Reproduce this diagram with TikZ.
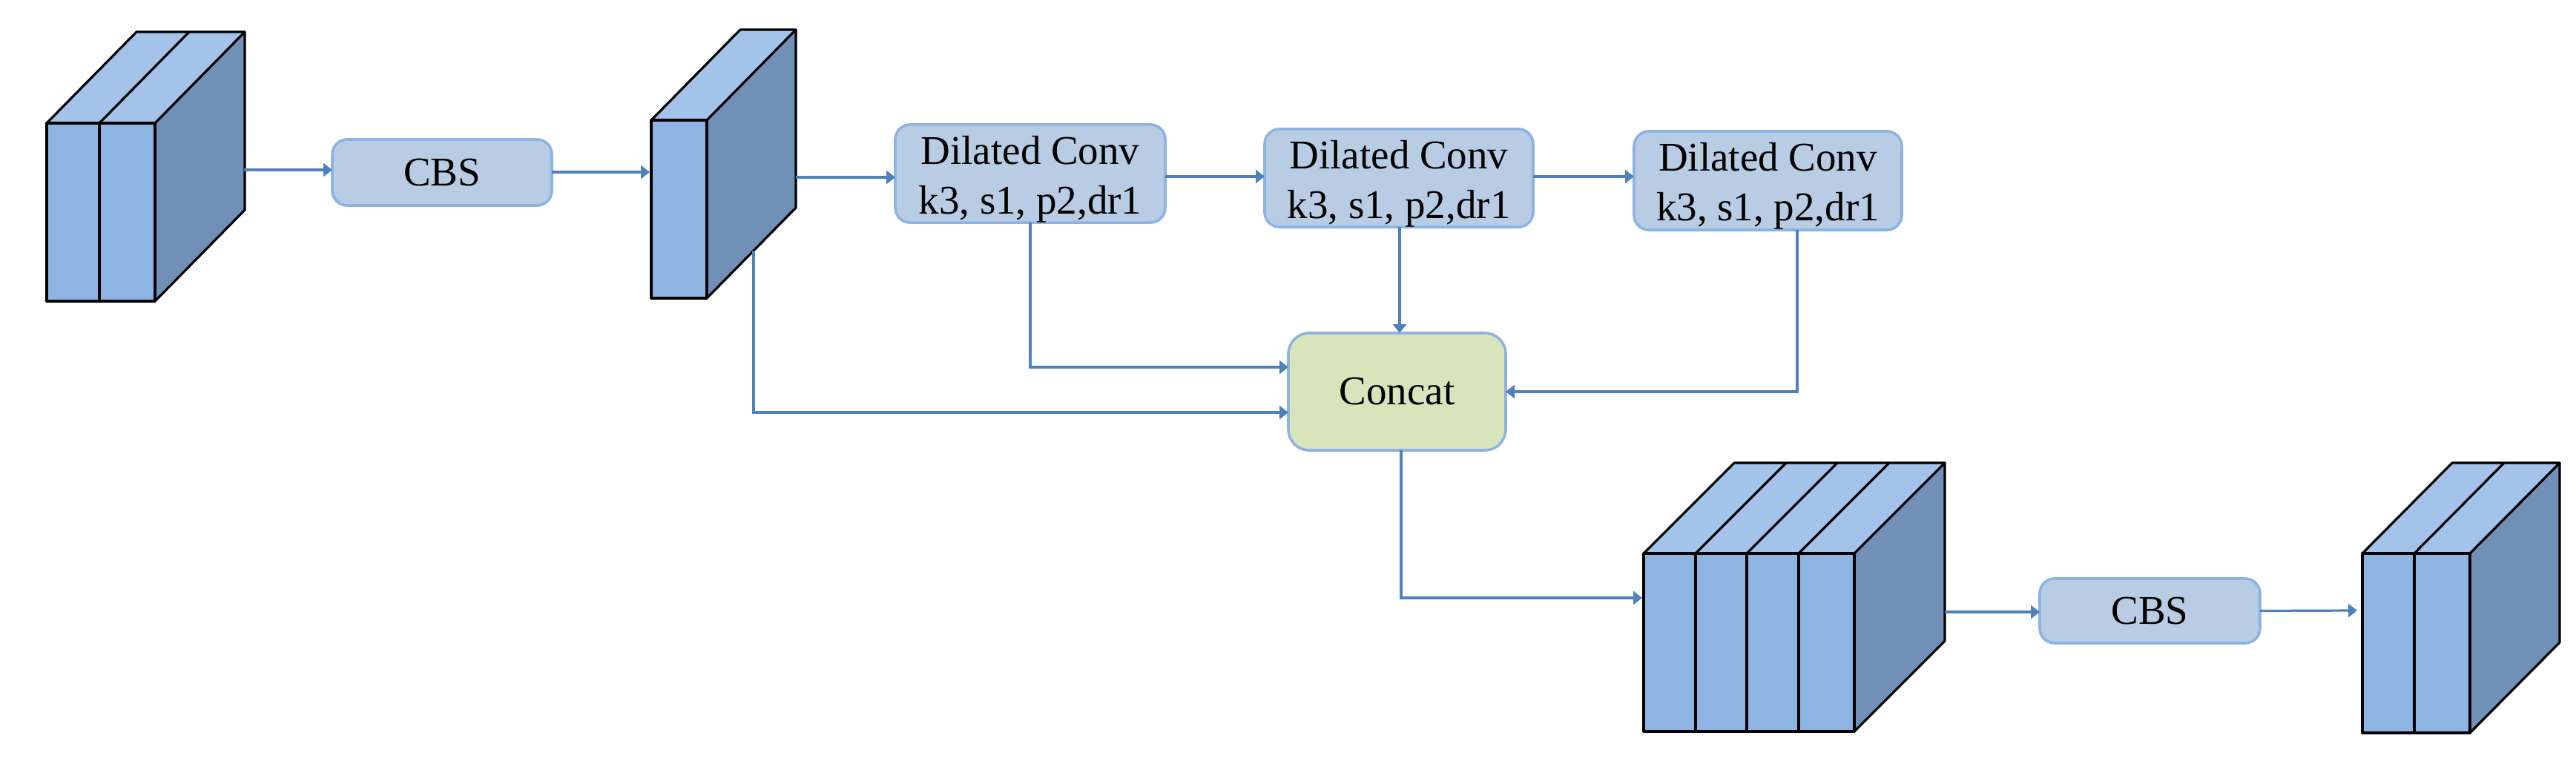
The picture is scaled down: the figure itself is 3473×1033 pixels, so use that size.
\documentclass[tikz,border=0pt]{standalone}
\usepackage{fontspec}
\setmainfont{Liberation Serif}
\usetikzlibrary{arrows.meta}
\definecolor{frontc}{HTML}{8EB4E3}
\definecolor{topc}{HTML}{A3C3EA}
\definecolor{sidec}{HTML}{7090B8}
\definecolor{boxc}{HTML}{B8CCE4}
\definecolor{boxb}{HTML}{8DB3E2}
\definecolor{concatc}{HTML}{D7E4BC}
\definecolor{linkc}{HTML}{4F81BD}
\tikzset{
  x=0.5pt,y=-0.5pt,
  face/.style={draw=black,line width=1.6pt,line join=round},
  bluebox/.style={draw=boxb,fill=boxc,line width=1.8pt,rounded corners=10pt,inner sep=0pt,outer sep=0pt,align=center,
    font=\fontsize{27.5}{33.5}\selectfont},
  greenbox/.style={bluebox,fill=concatc,rounded corners=14pt},
  link/.style={draw=linkc,line width=1.6pt,-{Triangle[length=6pt,width=9pt]}},
}
\newcommand{\dctext}{\rule{0pt}{26.7pt}Dilated Conv\\k3, s1, p2,dr1}
% name, dividers, xL, xR, yT, yB, dx, dy
\newcommand{\stackblock}[8]{%
  \fill[sidec] (#4,#5) -- ++(#7,-#8) -- ++(0,#6-#5) -- (#4,#6) -- cycle;
  \fill[topc] (#3,#5) -- ++(#7,-#8) -- ++(#4-#3,0) -- (#4,#5) -- cycle;
  \fill[frontc] (#3,#5) rectangle (#4,#6);
  \foreach \xd in {#2} {
    \draw[face] (\xd,#5) -- (\xd,#6);
    \draw[face] (\xd,#5) -- ++(#7,-#8);
  }
  \draw[face] (#3,#5) rectangle (#4,#6);
  \draw[face] (#3,#5) -- ++(#7,-#8) -- ++(#4-#3,0) -- (#4,#5);
  \draw[face] (#4,#6) -- ++(#7,-#8) -- ++(0,#5-#6);
  \node[inner sep=0pt,outer sep=0pt] (#1) at (#3,#5) {};
}
\begin{document}
\begin{tikzpicture}
\useasboundingbox (0,0) rectangle (3473,1033);
\stackblock{blockA}{134}{63}{209}{166}{406}{121}{123}
\stackblock{blockB}{}{878}{953}{162}{402}{120}{122}
\stackblock{blockC}{2286,2355,2425}{2216}{2500}{746}{986}{122}{122}
\stackblock{blockD}{3255}{3185}{3330}{746}{988}{121}{122}

\node[bluebox,minimum width=148pt,minimum height=44.5pt] (cbsA) at (596,232.5) {CBS};
\node[bluebox,minimum width=182pt,minimum height=66pt] (dcA) at (1389,234) {\dctext};
\node[bluebox,minimum width=181pt,minimum height=66pt] (dcB) at (1886,240) {\dctext};
\node[bluebox,minimum width=180.5pt,minimum height=66.5pt] (dcC) at (2383.5,243.5) {\dctext};
\node[greenbox,minimum width=146.5pt,minimum height=79pt] (concat) at (1883.5,528) {Concat};
\node[bluebox,minimum width=148.5pt,minimum height=43.5pt] (cbsB) at (2898.5,823.5) {CBS};

\coordinate (outA) at (329,229);
\coordinate (inB) at (876,232);
\coordinate (outB) at (1073,239);
\coordinate (downB) at (1016,338);
\coordinate (inC) at (2214,806);
\coordinate (outC) at (2622,825);
\coordinate (inD) at (3178,823);

\draw[link] (outA) -- (cbsA.west |- outA);
\draw[link] (cbsA.east |- inB) -- (inB);
\draw[link] (outB) -- (dcA.west |- outB);
\draw[link] (dcA.east |- 0,238) -- (dcB.west |- 0,238);
\draw[link] (dcB.east |- 0,238) -- (dcC.west |- 0,238);
\draw[link] (downB) |- (concat.west |- 0,556);
\draw[link] (dcA.south) |- (concat.west |- 0,495);
\draw[link] (dcB.south -| 1887,0) -- (concat.north -| 1887,0);
\draw[link] (dcC.south -| 2423,0) |- (concat.east |- 0,528);
\draw[link] (concat.south -| 1889,0) |- (inC);
\draw[link] (outC) -- (cbsB.west |- outC);
\draw[link] (cbsB.east) -- (inD);
\end{tikzpicture}
\end{document}
